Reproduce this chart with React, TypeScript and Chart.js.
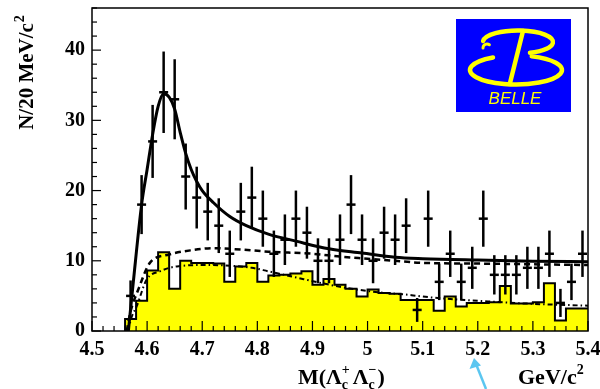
import React, { useEffect, useRef } from "react";
import { Chart, registerables } from "chart.js";

Chart.register(...registerables);

// ---- data ----
const massBins = [
  4.57, 4.59, 4.61, 4.63, 4.65, 4.67, 4.69, 4.71, 4.73, 4.75, 4.77, 4.79, 4.81, 4.83,
  4.85, 4.87, 4.89, 4.91, 4.93, 4.95, 4.97, 4.99, 5.01, 5.03, 5.05, 5.07, 5.09, 5.11,
  5.13, 5.15, 5.17, 5.19, 5.21, 5.23, 5.25, 5.27, 5.29, 5.31, 5.33, 5.35, 5.37, 5.39,
];
const counts = [
  5, 18, 27, 34, 33, 22, 19, 17, 15, 11, 17, 19, 16, 11,
  13, 16, 14, 10, 10, 13, 18, 13, 10, 14, 13, 15, 3, 16,
  7, 11, 7, 9, 16, 8, 8, 8, 9, 9, 11, 4, 7, 11,
];
const countErrors = [
  2.2, 4.2, 5.2, 5.8, 5.7, 4.7, 4.4, 4.1, 3.9, 3.3, 4.1, 4.4, 4.0, 3.3,
  3.6, 4.0, 3.7, 3.2, 3.2, 3.6, 4.2, 3.6, 3.2, 3.7, 3.6, 3.9, 1.7, 4.0,
  2.6, 3.3, 2.6, 3.0, 4.0, 2.8, 2.8, 2.8, 3.0, 3.0, 3.3, 2.0, 2.6, 3.3,
];
const sidebandHist = [
  1.7, 4.3, 8.6, 11.2, 6.0, 10.0, 9.7, 9.7, 9.6, 7.0, 9.2, 9.7, 7.0, 7.9,
  8.0, 8.2, 8.5, 6.6, 7.4, 6.6, 6.0, 4.9, 5.9, 5.4, 5.3, 4.4, 4.4, 4.4,
  2.9, 4.9, 3.5, 4.0, 4.0, 4.1, 6.4, 3.9, 3.9, 4.1, 6.8, 1.5, 3.2, 3.2,
];
const binWidth = 0.02;

const fitMass = [4.566, 4.575, 4.59, 4.6, 4.61, 4.62, 4.63, 4.64, 4.65, 4.66, 4.67, 4.68, 4.69, 4.7, 4.72, 4.75, 4.78, 4.82, 4.87, 4.93, 4.99, 5.05, 5.1, 5.2, 5.3, 5.4];
const fitTotal = [0, 7, 18, 23, 28, 32, 33.8, 33.3, 31.6, 28.3, 25.3, 23, 21.3, 20, 18.3, 16.3, 15, 13.8, 12.8, 11.7, 11.1, 10.5, 10.3, 10.1, 9.95, 9.85];

const bkgMass = [4.563, 4.57, 4.584, 4.605, 4.64, 4.68, 4.72, 4.77, 4.82, 4.9, 4.95, 5.0, 5.05, 5.1, 5.2, 5.3, 5.4];
const bkgCurve = [0, 2.8, 5.9, 9.7, 10.9, 11.5, 11.8, 11.6, 11.3, 11.0, 10.6, 10.3, 10.0, 9.7, 9.6, 9.5, 9.4];

const sbMass = [4.565, 4.572, 4.581, 4.599, 4.623, 4.654, 4.71, 4.79, 4.82, 4.86, 4.95, 5.01, 5.08, 5.1, 5.16, 5.22, 5.29, 5.4];
const sbCurve = [0, 2.0, 3.5, 7.3, 8.5, 9.2, 9.4, 9.0, 8.5, 7.8, 6.3, 5.6, 5.1, 4.9, 4.5, 4.2, 3.9, 3.6];

const xTickLabels = ["4.5", "4.6", "4.7", "4.8", "4.9", "5", "5.1", "5.2", "5.3", "5.4"];
const yTickLabels = ["0", "10", "20", "30", "40"];

const SERIF = '"Liberation Serif", "Times New Roman", serif';

const decorPlugin = {
  id: "decor",
  afterDatasetsDraw(chart: any) {
    const { ctx, chartArea: a, scales } = chart;
    const xs = scales.x;
    const ys = scales.y;
    ctx.save();
    // error bars
    ctx.beginPath();
    ctx.rect(a.left, a.top, a.right - a.left, a.bottom - a.top);
    ctx.clip();
    ctx.strokeStyle = "#000";
    ctx.lineWidth = 2.5;
    massBins.forEach((m, i) => {
      const px = xs.getPixelForValue(m);
      const y1 = ys.getPixelForValue(Math.max(0, counts[i] - countErrors[i]));
      const y2 = ys.getPixelForValue(counts[i] + countErrors[i]);
      ctx.beginPath();
      ctx.moveTo(px, y1);
      ctx.lineTo(px, y2);
      ctx.stroke();
    });
    ctx.restore();

    ctx.save();
    // frame
    ctx.strokeStyle = "#000";
    ctx.lineWidth = 1.5;
    ctx.strokeRect(a.left, a.top, a.right - a.left, a.bottom - a.top);
    // ticks inward
    ctx.lineWidth = 1.2;
    const xMin = xs.min, xMax = xs.max;
    const nX = Math.round((xMax - xMin) / binWidth);
    for (let i = 0; i <= nX; i++) {
      const px = xs.getPixelForValue(xMin + i * binWidth);
      const len = i % 5 === 0 ? 10 : 5;
      ctx.beginPath();
      ctx.moveTo(px, a.bottom);
      ctx.lineTo(px, a.bottom - len);
      ctx.stroke();
    }
    for (let v = 0; v <= ys.max; v += 2) {
      const py = ys.getPixelForValue(v);
      const len = v % 10 === 0 ? 9 : 5;
      ctx.beginPath();
      ctx.moveTo(a.left, py);
      ctx.lineTo(a.left + len, py);
      ctx.stroke();
    }

    // y title
    ctx.fillStyle = "#000";
    ctx.save();
    ctx.translate(33, 73);
    ctx.rotate(-Math.PI / 2);
    ctx.font = `bold 21px ${SERIF}`;
    const t1 = "N/20 MeV/c";
    const w1 = ctx.measureText(t1).width;
    ctx.font = `bold 14px ${SERIF}`;
    const w2 = ctx.measureText("2").width;
    const sx = -(w1 + w2) / 2;
    ctx.font = `bold 21px ${SERIF}`;
    ctx.textBaseline = "alphabetic";
    ctx.textAlign = "left";
    ctx.fillText(t1, sx, 0);
    ctx.font = `bold 14px ${SERIF}`;
    ctx.fillText("2", sx + w1 + 1, -9);
    ctx.restore();

    // x title
    const base = 384;
    let x = 298;
    ctx.textAlign = "left";
    ctx.textBaseline = "alphabetic";
    const big = `bold 22px ${SERIF}`;
    const small = `bold 14px ${SERIF}`;
    const put = (t: string, f: string, dy: number, advance = true) => {
      ctx.font = f;
      ctx.fillText(t, x, base + dy);
      const w = ctx.measureText(t).width;
      if (advance) x += w;
      return w;
    };
    put("M(Λ", big, 0);
    let ws = put("c", small, 5, false);
    let wp = put("+", small, -10, false);
    x += Math.max(ws, wp) + 3;
    put("Λ", big, 0);
    ws = put("c", small, 5, false);
    wp = put("−", small, -10, false);
    x += Math.max(ws, wp) + 1;
    put(")", big, 0);

    x = 518;
    put("GeV/c", big, 0);
    put("2", small, -10);

    // Belle logo
    ctx.fillStyle = "#0000ff";
    ctx.fillRect(456, 19, 115, 93);
    ctx.strokeStyle = "#ffff00";
    ctx.lineWidth = 4.5;
    ctx.lineCap = "round";
    ctx.beginPath();
    ctx.ellipse(518, 42, 35, 11.5, 0, (185 * Math.PI) / 180, (430 * Math.PI) / 180, false);
    ctx.stroke();
    ctx.beginPath();
    ctx.ellipse(516, 70, 46, 14.5, 0, (240 * Math.PI) / 180, (290 * Math.PI) / 180, true);
    ctx.stroke();
    ctx.beginPath();
    ctx.moveTo(523, 31);
    ctx.lineTo(510, 83);
    ctx.stroke();
    ctx.lineWidth = 3;
    ctx.beginPath();
    ctx.arc(487, 48, 4, Math.PI, Math.PI * 1.7, false);
    ctx.stroke();
    ctx.fillStyle = "#ffff00";
    ctx.font = `italic 17px "Liberation Sans", Arial, sans-serif`;
    ctx.textAlign = "center";
    ctx.textBaseline = "alphabetic";
    ctx.fillText("BELLE", 515, 104);

    // annotation arrow
    ctx.strokeStyle = "#5bc6f0";
    ctx.fillStyle = "#5bc6f0";
    ctx.lineWidth = 2.5;
    ctx.lineCap = "butt";
    ctx.beginPath();
    ctx.moveTo(486, 389);
    ctx.lineTo(476, 364);
    ctx.stroke();
    ctx.beginPath();
    ctx.moveTo(474, 358);
    ctx.lineTo(469.5, 369);
    ctx.lineTo(481, 365.5);
    ctx.closePath();
    ctx.fill();
    ctx.restore();
  },
};

export default function App() {
  const ref = useRef<HTMLCanvasElement | null>(null);
  useEffect(() => {
    document.body.style.margin = "0";
    const canvas = ref.current;
    if (!canvas) return;
    const last = massBins.length - 1;
    const histPoints = [
      { x: massBins[0] - binWidth / 2, y: 0 },
      ...massBins.map((m, i) => ({ x: m - binWidth / 2, y: sidebandHist[i] })),
      { x: massBins[last] + binWidth / 2, y: sidebandHist[last] },
    ];
    const chart = new Chart(canvas, {
      type: "scatter",
      data: {
        datasets: [
          {
            type: "scatter",
            label: "data",
            data: massBins.map((m, i) => ({ x: m, y: counts[i] })),
            pointStyle: "line",
            pointRadius: 4.5,
            pointBorderWidth: 2.5,
            borderColor: "#000",
            backgroundColor: "#000",
            order: 0,
          } as any,
          {
            type: "line",
            label: "fit",
            data: fitMass.map((m, i) => ({ x: m, y: fitTotal[i] })),
            borderColor: "#000",
            borderWidth: 3,
            pointRadius: 0,
            cubicInterpolationMode: "monotone",
            fill: false,
            order: 1,
          },
          {
            type: "line",
            label: "background",
            data: bkgMass.map((m, i) => ({ x: m, y: bkgCurve[i] })),
            borderColor: "#000",
            borderWidth: 2.5,
            borderDash: [6, 4],
            pointRadius: 0,
            cubicInterpolationMode: "monotone",
            fill: false,
            order: 2,
          },
          {
            type: "line",
            label: "sideband fit",
            data: sbMass.map((m, i) => ({ x: m, y: sbCurve[i] })),
            borderColor: "#000",
            borderWidth: 2,
            borderDash: [5, 3, 1.5, 3],
            pointRadius: 0,
            cubicInterpolationMode: "monotone",
            fill: false,
            order: 3,
          },
          {
            type: "line",
            label: "sideband",
            data: histPoints,
            stepped: "before",
            borderColor: "#000",
            borderWidth: 2,
            backgroundColor: "#ffff00",
            pointRadius: 0,
            fill: "origin",
            order: 4,
          },
        ],
      },
      options: {
        responsive: false,
        animation: false,
        devicePixelRatio: 1,
        events: [],
        layout: { padding: { left: 0, top: 8, right: 12, bottom: 0 } },
        plugins: { legend: { display: false }, tooltip: { enabled: false } },
        scales: {
          x: {
            type: "linear",
            min: 4.5,
            max: 5.4,
            grid: { display: false, drawTicks: false },
            border: { display: false },
            ticks: {
              stepSize: 0.1,
              includeBounds: false,
              autoSkip: false,
              maxRotation: 0,
              padding: 7,
              color: "#000",
              font: { family: SERIF, weight: "bold", size: 20 },
              callback: (v: any, i: number) => xTickLabels[i] ?? "",
            },
            afterFit: (s: any) => {
              s.height = 58;
              s.paddingLeft = 0;
              s.paddingRight = 0;
            },
          },
          y: {
            type: "linear",
            min: 0,
            max: 46,
            grid: { display: false, drawTicks: false },
            border: { display: false },
            ticks: {
              stepSize: 10,
              includeBounds: false,
              padding: 7,
              color: "#000",
              font: { family: SERIF, weight: "bold", size: 20 },
              callback: (v: any) => (yTickLabels.includes(String(v)) ? String(v) : ""),
            },
            afterFit: (s: any) => {
              s.width = 92;
              s.paddingTop = 0;
              s.paddingBottom = 0;
            },
          },
        },
      } as any,
      plugins: [decorPlugin],
    });
    return () => chart.destroy();
  }, []);
  return (
    <div style={{ width: 600, height: 389, background: "#fff" }}>
      <canvas ref={ref} width={600} height={389} style={{ display: "block" }} />
    </div>
  );
}
